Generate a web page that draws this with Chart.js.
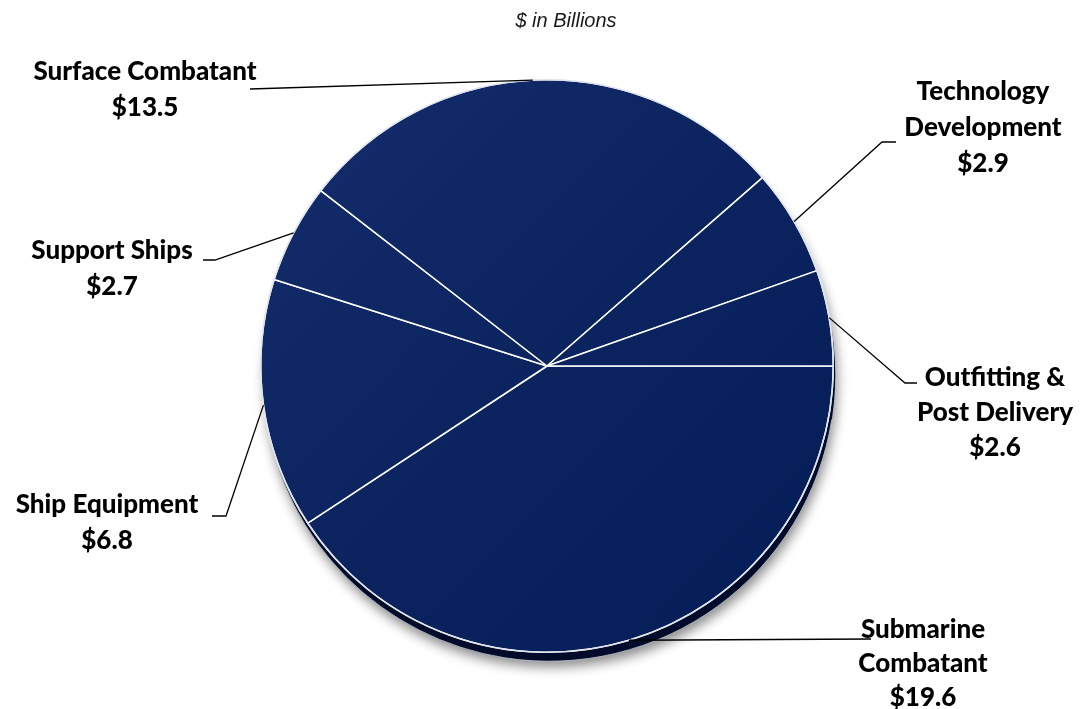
<!DOCTYPE html>
<html>
<head>
<meta charset="utf-8">
<script src="https://cdn.jsdelivr.net/npm/chart.js@4"></script>
<style>
    html, body { margin: 0; padding: 0; background: #fff; }
    #wrap { width: 1082px; height: 709px; position: relative; }
</style>
</head>
<body>
<div id="wrap"><canvas id="v" width="1082" height="709"></canvas></div>
<script>
(function () {

    // slices, clockwise from 3 o'clock
    const categories = ['Submarine Combatant', 'Ship Equipment', 'Support Ships', 'Surface Combatant', 'Technology Development', 'Outfitting & Post Delivery'];
    const values = [19.6, 6.8, 2.7, 13.5, 2.9, 2.6];
    const labelLines = [
        ['Submarine', 'Combatant', '$19.6'],
        ['Ship Equipment', '$6.8'],
        ['Support Ships', '$2.7'],
        ['Surface Combatant', '$13.5'],
        ['Technology', 'Development', '$2.9'],
        ['Outfitting &', 'Post Delivery', '$2.6']
    ];
    const subtitle = '$ in Billions';

    // where each label block sits (center x, first line y) and where its leader line ends
    const labelLayout = [
        {x: 923, y: 630, lh: 34, lead: [[871, 639]]},
        {x: 107, y: 505, lh: 36, lead: [[226, 516], [212, 516]]},
        {x: 112, y: 251, lh: 36, lead: [[215, 260], [203, 260]]},
        {x: 145, y: 72, lh: 36, lead: [[250, 89]], angleOffset: -0.02},
        {x: 983, y: 92, lh: 36, lead: [[882, 142], [896, 142]]},
        {x: 995, y: 378, lh: 35, lead: [[905, 383], [917, 383]]}
    ];

    const ctx = document.getElementById('v').getContext('2d');

    const faceFill = function (c) {
        const area = c.chart.chartArea;
        if (!area) return '#0a2360';
        const g = c.chart.ctx.createLinearGradient(area.left, area.top, area.right, area.bottom);
        g.addColorStop(0, '#142c6c');
        g.addColorStop(0.5, '#0b245f');
        g.addColorStop(1, '#041c56');
        return g;
    };

    const pieDepth = {
        id: 'pieDepth',
        beforeDatasetsDraw: function (chart) {
            const arc = chart.getDatasetMeta(0).data[0];
            if (!arc) return;
            const c = chart.ctx;
            c.save();
            c.shadowColor = 'rgba(0,0,0,0.45)';
            c.shadowBlur = 12;
            c.shadowOffsetX = 2;
            c.shadowOffsetY = 6;
            c.beginPath();
            c.arc(arc.x + 2, arc.y + 9, arc.outerRadius, 0, Math.PI * 2);
            c.fillStyle = '#020c2a';
            c.fill();
            c.restore();
            c.save();
            c.beginPath();
            c.arc(arc.x + 2, arc.y + 9, arc.outerRadius, 0.05 * Math.PI, 0.95 * Math.PI);
            c.strokeStyle = 'rgba(190,195,210,0.8)';
            c.lineWidth = 1;
            c.stroke();
            c.restore();
        },
        afterDatasetsDraw: function (chart) {
            const arc = chart.getDatasetMeta(0).data[0];
            if (!arc) return;
            const c = chart.ctx;
            c.save();
            c.beginPath();
            c.arc(arc.x, arc.y, arc.outerRadius, 0, Math.PI * 2);
            c.strokeStyle = '#dfe3ec';
            c.lineWidth = 1.5;
            c.stroke();
            c.restore();
        }
    };

    const calloutLabels = {
        id: 'calloutLabels',
        afterDraw: function (chart) {
            const c = chart.ctx;
            const meta = chart.getDatasetMeta(0);
            c.save();
            c.font = 'italic 20px "Liberation Sans", Arial, sans-serif';
            c.fillStyle = '#1a1a1a';
            c.textAlign = 'center';
            c.textBaseline = 'middle';
            c.fillText(subtitle, 566, 21);

            meta.data.forEach(function (arc, i) {
                const lay = labelLayout[i];
                const mid = (arc.startAngle + arc.endAngle) / 2 + (lay.angleOffset || 0);
                const r = arc.outerRadius;
                const sx = arc.x + Math.cos(mid) * r;
                const sy = arc.y + Math.sin(mid) * r;

                c.beginPath();
                c.moveTo(sx, sy);
                lay.lead.forEach(function (p) {
                    c.lineTo(p[0], p[1]);
                });
                c.strokeStyle = '#000';
                c.lineWidth = 1.3;
                c.stroke();

                c.font = '900 26px Lato, "Open Sans", sans-serif';
                c.fillStyle = '#000';
                c.textAlign = 'center';
                c.textBaseline = 'middle';
                labelLines[i].forEach(function (t, k) {
                    c.fillText(t, lay.x, lay.y + k * lay.lh);
                });
            });
            c.restore();
        }
    };

    const data = {
        labels: categories,
        datasets: [{
                data: values,
                backgroundColor: faceFill,
                borderColor: '#ffffff',
                borderWidth: 1.5,
                hoverOffset: 0
            }]
    };

    const config = {
        type: 'pie',
        data: data,
        options: {
            animation: false,
            responsive: false,
            rotation: 90,
            layout: {
                padding: {left: 258, right: 246, top: 79, bottom: 56}
            },
            plugins: {
                legend: {display: false},
                title: {display: false},
                tooltip: {enabled: false}
            }
        },
        plugins: [pieDepth, calloutLabels]
    };

    const myChart = new Chart(ctx, config);

})();
</script>
</body>
</html>
